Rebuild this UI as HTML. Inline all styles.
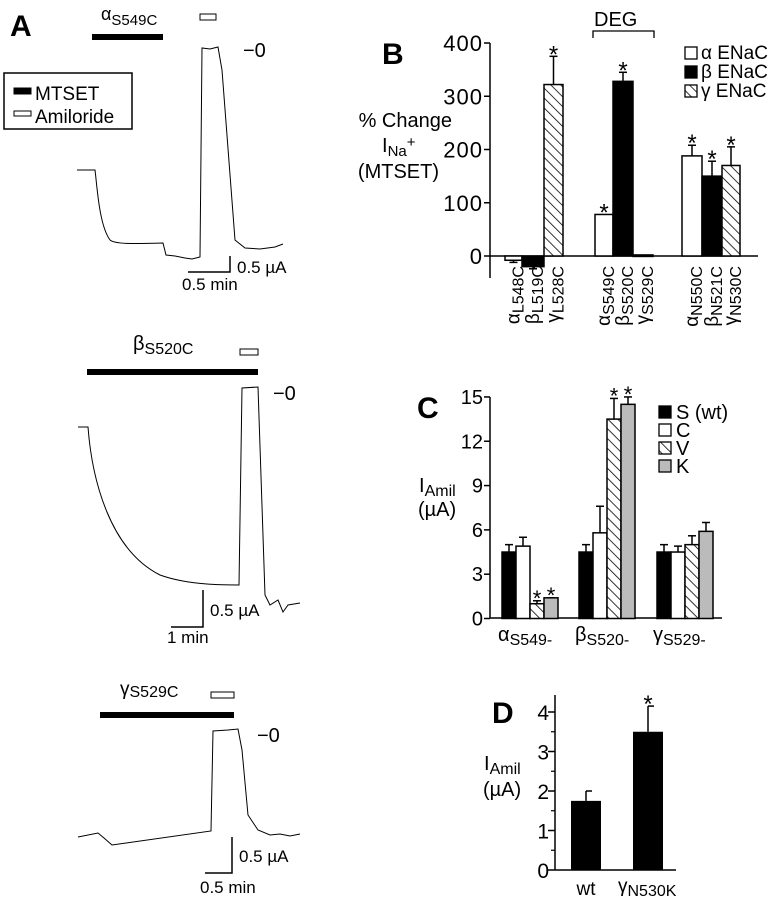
<!DOCTYPE html>
<html><head><meta charset="utf-8"><style>
body{margin:0;background:#fff}
svg{display:block;font-family:"Liberation Sans",sans-serif}
</style></head><body>
<svg id="fig" width="783" height="899" viewBox="0 0 783 899">
<defs>
<pattern id="hatch" patternUnits="userSpaceOnUse" width="7" height="7" patternTransform="rotate(-45)">
<rect width="7" height="7" fill="#fff"/><line x1="0" y1="0" x2="0" y2="7" stroke="#000" stroke-width="1.6"/>
</pattern>
</defs>
<g fill="none" stroke="#000">
<text x="10" y="36" font-size="30" font-weight="bold" fill="#000" stroke="none">A</text>
<g>
<rect x="4" y="73" width="128" height="56" stroke-width="1.5"/>
<rect x="14" y="88" width="17" height="6" fill="#000"/>
<rect x="14" y="111" width="17" height="5" stroke-width="1"/>
<text x="35" y="100" font-size="19" fill="#000" stroke="none">MTSET</text>
<text x="35" y="123" font-size="19" fill="#000" stroke="none">Amiloride</text>
</g>
<text x="101" y="20" font-size="18" fill="#000" stroke="none">α<tspan font-size="15" dy="5">S549C</tspan></text>
<rect x="92" y="34" width="71" height="6" fill="#000" stroke="none"/>
<rect x="200" y="14" width="16" height="6" stroke-width="1"/>
<text x="243" y="57" font-size="20" fill="#000" stroke="none">−0</text>
<path d="M77,170 L95,170 C97,185 99,225 110,240 C115,244 130,244 163,243 L166,255 L175,256 L185,258 L192,259 L200,257 L202,48 L210,49 L218,47 L222,70 L235,240 L245,248 L260,249 L275,247 L283,244" stroke-width="1"/>
<path d="M230,256 L230,272 L188,272" stroke-width="1.5"/>
<text x="237" y="273" font-size="17" fill="#000" stroke="none">0.5 µA</text>
<text x="182" y="290" font-size="17" fill="#000" stroke="none">0.5 min</text>
<text x="133" y="350" font-size="20" fill="#000" stroke="none">β<tspan font-size="16" dy="4">S520C</tspan></text>
<rect x="87" y="369" width="171" height="6" fill="#000" stroke="none"/>
<rect x="240" y="349" width="18" height="6" stroke-width="1"/>
<text x="273" y="400" font-size="20" fill="#000" stroke="none">−0</text>
<path d="M78,427 L88,427 C92,480 110,550 160,575 C185,584 215,585 239,585 L242,388 L258,387 L265,595 L270,605 L278,600 L283,612 L288,605 L300,603" stroke-width="1"/>
<path d="M203,590 L203,627 L171,627" stroke-width="1.5"/>
<text x="210" y="616" font-size="17" fill="#000" stroke="none">0.5 µA</text>
<text x="167" y="643" font-size="17" fill="#000" stroke="none">1 min</text>
<text x="120" y="695" font-size="19" fill="#000" stroke="none">γ<tspan font-size="16" dy="2">S529C</tspan></text>
<rect x="100" y="712" width="134" height="6" fill="#000" stroke="none"/>
<rect x="211" y="692" width="23" height="6" stroke-width="1"/>
<text x="257" y="742" font-size="20" fill="#000" stroke="none">−0</text>
<path d="M78,837 L98,833 L104,838 L112,845 L211,831 L213,731 L228,730 L238,729 L242,750 L248,815 L258,830 L270,835 L280,834 L290,836 L300,834" stroke-width="1"/>
<path d="M232,837 L232,873 L205,873" stroke-width="1.5"/>
<text x="239" y="862" font-size="17" fill="#000" stroke="none">0.5 µA</text>
<text x="200" y="893" font-size="17" fill="#000" stroke="none">0.5 min</text>
</g>
<g id="pb"></g>
<g id="pc"></g>
<g id="pd"></g>
</svg>
<script>
const bLabels=[["α","L548C"],["β","L519C"],["γ","L528C"],["α","S549C"],["β","S520C"],["γ","S529C"],["α","N550C"],["β","N521C"],["γ","N530C"]];
const bValues=[-8,-20,322,78,328,2,188,150,170];
const bErr=[-12,-24,375,78,345,2,208,178,205];
const bStar=[false,false,true,true,true,false,true,true,true];
const bTicks=[0,100,200,300,400];
const cGroups=[["α","S549-"],["β","S520-"],["γ","S529-"]];
const cS=[4.5,4.5,4.5],cSe=[5.0,5.0,5.0];
const cC=[4.9,5.8,4.5],cCe=[5.5,7.6,4.9];
const cV=[1.0,13.5,5.0],cVe=[1.2,14.9,5.6];
const cK=[1.4,14.5,5.9],cKe=[1.4,15.0,6.5];
const cStarV=[true,true,false],cStarK=[true,true,false];
const cTicks=[0,3,6,9,12,15];
const dLabels=["wt","γN530K"];
const dValues=[1.75,3.5];
const dErr=[2.0,4.15];
const dTicks=[0,1,2,3,4];
const NS="http://www.w3.org/2000/svg";
function el(p,t,a,txt){const e=document.createElementNS(NS,t);for(const k in a)e.setAttribute(k,a[k]);if(txt!=null)e.textContent=txt;p.appendChild(e);return e;}
const kinds=["#fff","#000","url(#hatch)"];
// Panel B
const pb=document.getElementById('pb');
const bY=v=>256-v*0.5325;
const bX=[505,522,544,595,613,633,682,702,722];
const bW=[17,22,19,18,20,20,20,20,18];
el(pb,'text',{x:382,y:64,'font-size':30,'font-weight':'bold'},'B');
el(pb,'line',{x1:490,y1:43,x2:490,y2:278,stroke:'#000','stroke-width':1.5});
el(pb,'line',{x1:490,y1:256,x2:758,y2:256,stroke:'#000','stroke-width':1.5});
bTicks.forEach(t=>{el(pb,'line',{x1:484,y1:bY(t),x2:490,y2:bY(t),stroke:'#000','stroke-width':1.5});
const tx=el(pb,'text',{x:483,y:bY(t)+8,'font-size':22,'letter-spacing':'1','text-anchor':'end'},String(t));
});
el(pb,'text',{x:452,y:127,'font-size':20,'text-anchor':'end'},'% Change');
const yl=el(pb,'text',{x:382,y:152,'font-size':20},'I');el(yl,'tspan',{'font-size':15,dy:4},'Na');el(yl,'tspan',{'font-size':15,dy:-9},'+');
el(pb,'text',{x:439,y:178,'font-size':20,'text-anchor':'end'},'(MTSET)');
el(pb,'text',{x:594,y:26,'font-size':20},'DEG');
el(pb,'path',{d:'M593,38 L593,31 L654,31 L654,38',fill:'none',stroke:'#000','stroke-width':1.3});
bValues.forEach((v,i)=>{const x=bX[i],w=bW[i],k=i%3;
if(bErr[i]!==v){el(pb,'line',{x1:x+w/2,y1:bY(v),x2:x+w/2,y2:bY(bErr[i]),stroke:'#000','stroke-width':1.5});
el(pb,'line',{x1:x+w/2-4,y1:bY(bErr[i]),x2:x+w/2+4,y2:bY(bErr[i]),stroke:'#000','stroke-width':1.5});}
const r=el(pb,'rect',{x:x,y:Math.min(bY(v),bY(0)),width:w,height:Math.max(Math.abs(bY(v)-bY(0)),1.5),fill:kinds[k],stroke:'#000','stroke-width':1.5});


if(bStar[i])el(pb,'text',{x:x+w/2,y:bY(Math.max(v,bErr[i]))+6,'font-size':24,'text-anchor':'middle'},'*');
const lt=el(pb,'text',{x:0,y:0,'font-size':19,'text-anchor':'end',transform:`translate(${x+w/2+6},266) rotate(-90)`},bLabels[i][0]);
el(lt,'tspan',{'font-size':16,dy:4},bLabels[i][1]);
});
const lg=[["α ENaC","#fff"],["β ENaC","#000"],["γ ENaC","url(#hatch)"]];
lg.forEach((l,i)=>{el(pb,'rect',{x:685,y:47+i*19,width:12,height:12,fill:l[1],stroke:'#000','stroke-width':1.3});
const t=el(pb,'text',{x:701,y:59+i*19,'font-size':19},l[0]);});
// Panel C
const pc=document.getElementById('pc');
const cY=v=>618.5-v*14.77;
const cGX=[502,579,657],bw=14;
el(pc,'text',{x:417,y:418,'font-size':30,'font-weight':'bold'},'C');
el(pc,'line',{x1:490,y1:397,x2:490,y2:618,stroke:'#000','stroke-width':1.5});
el(pc,'line',{x1:490,y1:618,x2:722,y2:618,stroke:'#000','stroke-width':1.5});
cTicks.forEach(t=>{el(pc,'line',{x1:484,y1:cY(t),x2:490,y2:cY(t),stroke:'#000','stroke-width':1.5});
el(pc,'text',{x:483,y:cY(t)+7,'font-size':20,'text-anchor':'end'},String(t));});
const cl=el(pc,'text',{x:419,y:492,'font-size':20},'I');el(cl,'tspan',{'font-size':16,dy:4},'Amil');
el(pc,'text',{x:418,y:516,'font-size':20},'(µA)');
const series=[[cS,cSe,"#000"],[cC,cCe,"#fff"],[cV,cVe,"url(#hatch)"],[cK,cKe,"#bbb"]];
const stars=[null,null,cStarV,cStarK];
cGroups.forEach((g,gi)=>{series.forEach((s,si)=>{const x=cGX[gi]+si*bw,v=s[0][gi],e=s[1][gi];
el(pc,'line',{x1:x+bw/2,y1:cY(v),x2:x+bw/2,y2:cY(e),stroke:'#000','stroke-width':1.5});
el(pc,'line',{x1:x+bw/2-4,y1:cY(e),x2:x+bw/2+4,y2:cY(e),stroke:'#000','stroke-width':1.5});
const r=el(pc,'rect',{x:x,y:cY(v),width:bw,height:cY(0)-cY(v),fill:s[2],stroke:'#000','stroke-width':1.5});


if(stars[si]&&stars[si][gi])el(pc,'text',{x:x+bw/2,y:cY(e)+5,'font-size':22,'text-anchor':'middle'},'*');});
const t=el(pc,'text',{x:cGX[gi]-4,y:641,'font-size':20},g[0]);el(t,'tspan',{'font-size':16,dy:4},g[1]);});
[["S (wt)","#000"],["C","#fff"],["V","url(#hatch)"],["K","#bbb"]].forEach((l,i)=>{
el(pc,'rect',{x:659,y:406+i*18,width:12,height:12,fill:l[1],stroke:'#000','stroke-width':1.3});
const t=el(pc,'text',{x:676,y:419+i*18,'font-size':20},l[0]);});
// Panel D
const pd=document.getElementById('pd');
const dY=v=>870-v*39.5;
const dX=[571,633],dw=30;
el(pd,'text',{x:492,y:723,'font-size':30,'font-weight':'bold'},'D');
el(pd,'line',{x1:555,y1:695,x2:555,y2:870,stroke:'#000','stroke-width':1.5});
el(pd,'line',{x1:555,y1:870,x2:676,y2:870,stroke:'#000','stroke-width':1.5});
dTicks.forEach(t=>{el(pd,'line',{x1:548,y1:dY(t),x2:555,y2:dY(t),stroke:'#000','stroke-width':1.5});
if(t<4)el(pd,'line',{x1:551,y1:dY(t+0.5),x2:555,y2:dY(t+0.5),stroke:'#000','stroke-width':1.2});
el(pd,'text',{x:549,y:dY(t)+8,'font-size':21,'text-anchor':'end'},String(t));});
const dl=el(pd,'text',{x:484,y:770,'font-size':20},'I');el(dl,'tspan',{'font-size':16,dy:4},'Amil');
el(pd,'text',{x:483,y:796,'font-size':20},'(µA)');
dValues.forEach((v,i)=>{const x=dX[i];
el(pd,'line',{x1:x+dw/2,y1:dY(v),x2:x+dw/2,y2:dY(dErr[i]),stroke:'#000','stroke-width':1.5});
el(pd,'line',{x1:x+dw/2,y1:dY(dErr[i]),x2:x+dw/2+6,y2:dY(dErr[i]),stroke:'#000','stroke-width':1.5});
const r=el(pd,'rect',{x:x,y:dY(v),width:dw,height:dY(0)-dY(v),fill:'#000'});

});
el(pd,'text',{x:648,y:dY(dErr[1])+6,'font-size':24,'text-anchor':'middle'},'*');
el(pd,'text',{x:586,y:895,'font-size':19,'text-anchor':'middle'},dLabels[0]);
const dt=el(pd,'text',{x:618,y:892,'font-size':19},'γ');el(dt,'tspan',{'font-size':16,dy:4},'N530K');
</script>
</body></html>
